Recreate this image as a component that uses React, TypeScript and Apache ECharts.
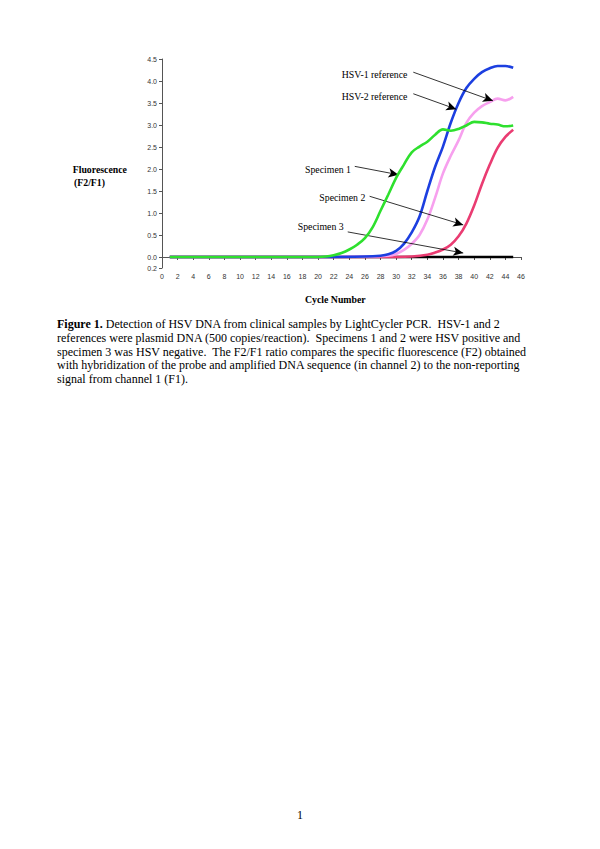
import React, { useEffect, useRef } from "react";
import * as echarts from "echarts";

// ---- data ----
const spec1Cycles = [1, 5, 10, 15, 18, 20, 21, 22, 23, 24, 25, 26, 27, 28, 29, 30, 31, 32, 33, 34, 35, 36, 37, 38, 39, 40, 41, 42, 43, 44, 45];
const spec1Values = [0, 0, 0, 0, 0, 0, 0.01, 0.04, 0.09, 0.17, 0.28, 0.43, 0.68, 1.05, 1.42, 1.8, 2.1, 2.38, 2.51, 2.62, 2.78, 2.9, 2.87, 2.91, 2.99, 3.07, 3.06, 3.03, 3.01, 2.97, 2.99];

const hsv1Cycles = [1, 10, 20, 26, 28, 29, 30, 31, 32, 33, 34, 35, 36, 37, 38, 39, 40, 41, 42, 43, 44, 45];
const hsv1Values = [0, 0, 0, 0.01, 0.03, 0.06, 0.14, 0.3, 0.56, 0.92, 1.5, 2.05, 2.51, 3.05, 3.5, 3.84, 4.05, 4.2, 4.29, 4.34, 4.34, 4.3];

const hsv2Cycles = [1, 10, 20, 26, 29, 30, 31, 32, 33, 34, 35, 36, 37, 38, 39, 40, 41, 42, 43, 44, 45];
const hsv2Values = [0, 0, 0, 0.01, 0.03, 0.07, 0.16, 0.3, 0.5, 0.85, 1.35, 1.9, 2.3, 2.65, 3.05, 3.28, 3.43, 3.52, 3.6, 3.56, 3.64];

const spec2Cycles = [1, 10, 20, 30, 32, 34, 35, 36, 37, 38, 39, 40, 41, 42, 43, 44, 45];
const spec2Values = [0, 0, 0, 0, 0.01, 0.05, 0.1, 0.17, 0.28, 0.47, 0.76, 1.17, 1.66, 2.1, 2.48, 2.73, 2.89];

const spec3Cycles = [1, 10, 20, 30, 40, 45];
const spec3Values = [0, 0, 0, 0, 0, 0];

const yTickValues = [-0.25, 0, 0.5, 1, 1.5, 2, 2.5, 3, 3.5, 4, 4.5];

// annotation arrows: [fromCycle, fromValue, toCycle, toValue]
const arrowHSV1 = [32.2, 4.2, 42.4, 3.55];
const arrowHSV2 = [32.2, 3.71, 37.7, 3.36];
const arrowSpec1 = [24.7, 2.06, 30.3, 1.87];
const arrowSpec2 = [26.6, 1.38, 38.6, 0.73];
const arrowSpec3 = [23.8, 0.57, 38.6, 0.09];

const captionLines = [
  " Detection of HSV DNA from clinical samples by LightCycler PCR.  HSV-1 and 2",
  "references were plasmid DNA (500 copies/reaction).  Specimens 1 and 2 were HSV positive and",
  "specimen 3 was HSV negative.  The F2/F1 ratio compares the specific fluorescence (F2) obtained",
  "with hybridization of the probe and amplified DNA sequence (in channel 2) to the non-reporting",
  "signal from channel 1 (F1).",
];

const zip = (xs: number[], ys: number[]) => xs.map((x, i) => [x, ys[i]]);

export default function App() {
  const ref = useRef<HTMLDivElement>(null);
  useEffect(() => {
    if (!ref.current) return;
    const chart = echarts.init(ref.current, undefined, { renderer: "svg" });
    const serif = "'Liberation Serif', 'Times New Roman', serif";
    const sans = "'Liberation Sans', Arial, sans-serif";
    const lineSeries = (name: string, data: number[][], color: string, z: number, extra: any = {}) => ({
      type: "line",
      name,
      data,
      showSymbol: false,
      smooth: 0.35,
      z,
      lineStyle: { color, width: 2.6 },
      itemStyle: { color },
      ...extra,
    });
    const arrow = (a: number[]) => [
      { coord: [a[0], a[1]], symbol: "none" },
      { coord: [a[2], a[3]], symbol: "arrow" },
    ];
    const annotation = (text: string, x: number, y: number) => ({
      type: "text",
      left: x,
      top: y - 6,
      style: { text, font: `9.8px ${serif}`, fill: "#000" },
    });
    const capTop = 318;
    const capStep = 13.8;
    const capSize = 12;
    chart.setOption({
      animation: false,
      backgroundColor: "#fff",
      grid: { left: 162, right: 79, top: 59, bottom: 581, containLabel: false },
      xAxis: {
        type: "value",
        min: 0,
        max: 46,
        interval: 2,
        axisLine: { show: true, lineStyle: { color: "#555", width: 1 } },
        axisTick: { show: true, length: 3, lineStyle: { color: "#555" } },
        axisLabel: { fontSize: 7, color: "#333", margin: 5, fontFamily: sans },
        splitLine: { show: false },
      },
      yAxis: {
        type: "value",
        min: -0.25,
        max: 4.5,
        axisLine: { show: true, lineStyle: { color: "#555", width: 1 } },
        axisTick: { show: true, length: 3, customValues: yTickValues, lineStyle: { color: "#555" } },
        axisLabel: {
          fontSize: 7,
          color: "#333",
          margin: 5,
          fontFamily: sans,
          customValues: yTickValues,
          formatter: (v: number) => (v < 0 ? "0.2" : v.toFixed(1)),
        },
        splitLine: { show: false },
      },
      series: [
        lineSeries("Specimen 3", zip(spec3Cycles, spec3Values), "#000000", 1, {
          smooth: false,
          markLine: {
            silent: true,
            symbolSize: [7, 10],
            lineStyle: { color: "#000", width: 0.8, type: "solid" },
            label: { show: false },
            data: [arrow(arrowHSV1), arrow(arrowHSV2), arrow(arrowSpec1), arrow(arrowSpec2), arrow(arrowSpec3)],
          },
        }),
        lineSeries("Specimen 2", zip(spec2Cycles, spec2Values), "#ea3c72", 2),
        lineSeries("HSV-2 reference", zip(hsv2Cycles, hsv2Values), "#f7a0ee", 3),
        lineSeries("HSV-1 reference", zip(hsv1Cycles, hsv1Values), "#1c3fe0", 4),
        lineSeries("Specimen 1", zip(spec1Cycles, spec1Values), "#2ee02e", 5),
      ],
      graphic: [
        annotation("HSV-1 reference", 341.7, 75.7),
        annotation("HSV-2 reference", 341.7, 97.3),
        annotation("Specimen 1", 305, 170),
        annotation("Specimen 2", 319.3, 198.3),
        annotation("Specimen 3", 297.7, 227.3),
        {
          type: "text",
          left: 72.7,
          top: 164,
          style: { text: "Fluorescence", font: `bold 9.8px ${serif}`, fill: "#000" },
        },
        {
          type: "text",
          left: 74,
          top: 177.5,
          style: { text: "(F2/F1)", font: `bold 9.8px ${serif}`, fill: "#000" },
        },
        {
          type: "text",
          left: 305,
          top: 294,
          style: { text: "Cycle Number", font: `bold 9.8px ${serif}`, fill: "#000" },
        },
        ...captionLines.map((line, i) =>
          i === 0
            ? {
                type: "text",
                left: 57,
                top: capTop,
                style: {
                  text: "{b|Figure 1.}{n|" + line + "}",
                  rich: {
                    b: { fontWeight: "bold", fontSize: capSize, fontFamily: serif, fill: "#000" },
                    n: { fontSize: capSize, fontFamily: serif, fill: "#000" },
                  },
                },
              }
            : {
                type: "text",
                left: 57,
                top: capTop + i * capStep,
                style: { text: line, font: `${capSize}px ${serif}`, fill: "#000" },
              }
        ),
        {
          type: "text",
          left: 297,
          top: 809,
          style: { text: "1", font: `${capSize}px ${serif}`, fill: "#000" },
        },
      ],
    });
    return () => chart.dispose();
  }, []);
  return (
    <div
      ref={ref}
      style={{ position: "absolute", left: 0, top: 0, width: 600, height: 849, background: "#fff" }}
    />
  );
}
